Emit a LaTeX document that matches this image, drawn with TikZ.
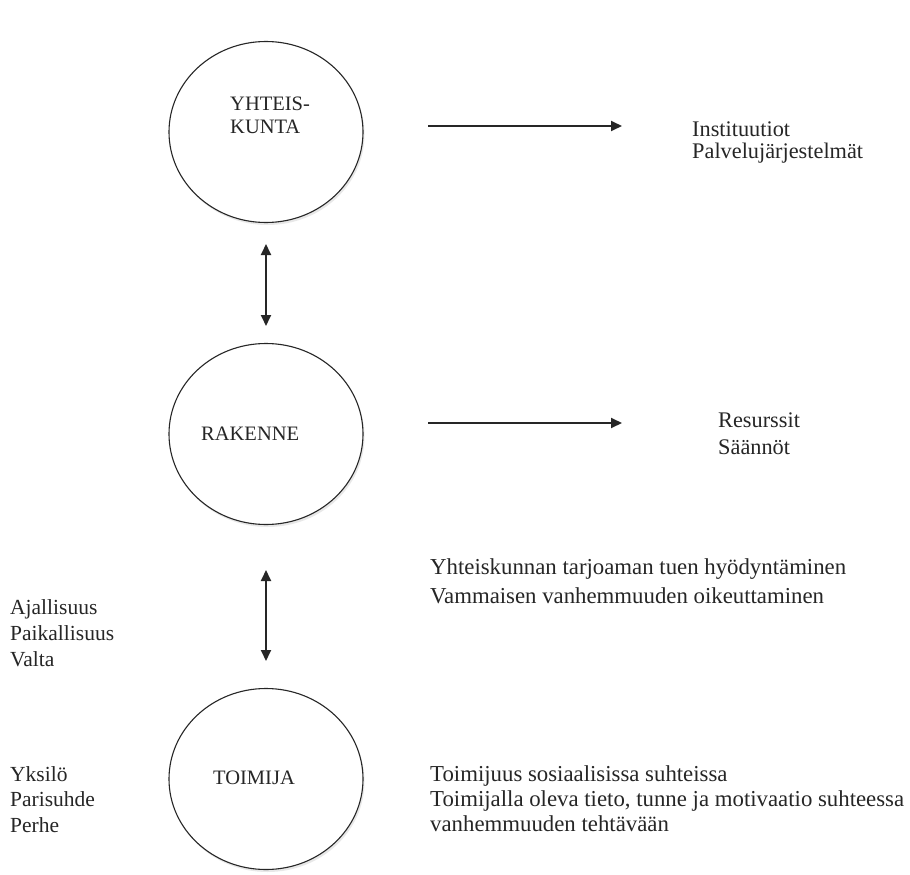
\documentclass[tikz,border=0pt]{standalone}
\usepackage{fontspec}
\setmainfont{Liberation Serif}
\usetikzlibrary{arrows.meta,shapes.geometric,shadows}
\begin{document}
\begin{tikzpicture}[x=1pt,y=-1pt,
  circ/.style={draw=black!85,fill=white,line width=1.1pt,ellipse,minimum width=194pt,minimum height=181pt,inner sep=0pt,
    drop shadow={opacity=0.18,shadow xshift=1.5pt,shadow yshift=-2.5pt}},
  lbl/.style={anchor=base west,inner sep=0pt,text=black!85,align=left},
  arr/.style={line width=1.8pt,draw=black!85,-{Triangle[length=11pt,width=10pt]}},
  darr/.style={line width=1.8pt,draw=black!85,{Triangle[length=11pt,width=10pt]}-{Triangle[length=11pt,width=10pt]}}]
\useasboundingbox (0,0) rectangle (910,875);
\fill[white] (0,0) rectangle (910,875);
% ellipses
\node[circ] (yk) at (266,132) {};
\node[circ] (rk) at (266,434) {};
\node[circ] (tm) at (266,779) {};
% labels inside (anchor = baseline of last line)
\node[lbl,font=\fontsize{20.5}{23}\selectfont] (yktxt) at (230,133) {YHTEIS-\\KUNTA};
\node[lbl,font=\fontsize{20.5}{23}\selectfont] (rktxt) at (201,440) {RAKENNE};
\node[lbl,font=\fontsize{20.5}{23}\selectfont] (tmtxt) at (213,784) {TOIMIJA};
% horizontal arrows
\coordinate (a1s) at (428,126); \coordinate (a1e) at (622,126);
\coordinate (a2s) at (428,423); \coordinate (a2e) at (622,423);
\draw[arr] (a1s) -- (a1e);
\draw[arr] (a2s) -- (a2e);
% vertical arrows
\coordinate (v1s) at (266,244); \coordinate (v1e) at (266,326);
\coordinate (v2s) at (266,570); \coordinate (v2e) at (266,661);
\draw[darr] (v1s) -- (v1e);
\draw[darr] (v2s) -- (v2e);
% right texts
\node[lbl,font=\fontsize{22.3}{22}\selectfont] (inst) at (692,158) {Instituutiot\\Palvelujärjestelmät};
\node[lbl,font=\fontsize{22.3}{27}\selectfont] (res) at (718,454) {Resurssit\\Säännöt};
\node[lbl,font=\fontsize{22.8}{29}\selectfont] (yht) at (430,603) {Yhteiskunnan tarjoaman tuen hyödyntäminen\\Vammaisen vanhemmuuden oikeuttaminen};
\node[lbl,font=\fontsize{22.8}{25}\selectfont] (toi) at (430,831) {Toimijuus sosiaalisissa suhteissa\\Toimijalla oleva tieto, tunne ja motivaatio suhteessa\\vanhemmuuden tehtävään};
% left texts
\node[lbl,font=\fontsize{21.5}{26}\selectfont] (aja) at (10,666) {Ajallisuus\\Paikallisuus\\Valta};
\node[lbl,font=\fontsize{21.5}{25.5}\selectfont] (yks) at (10,832) {Yksilö\\Parisuhde\\Perhe};
\end{tikzpicture}
\end{document}
